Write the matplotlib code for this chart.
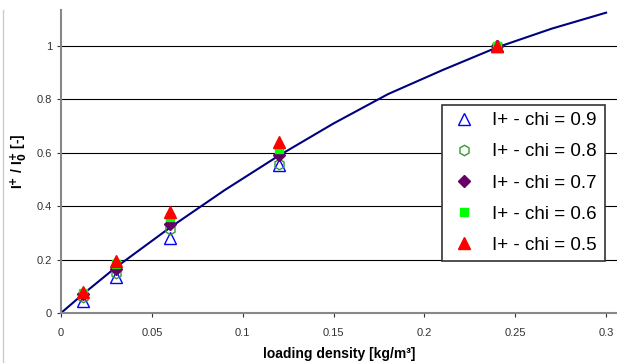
import matplotlib
matplotlib.use('Agg')
import matplotlib.pyplot as plt
from matplotlib.lines import Line2D

plt.rcParams['font.family'] = ['Liberation Sans', 'DejaVu Sans']

# fitted curve
curve_x = [0, 0.012, 0.03, 0.06, 0.09, 0.12, 0.15, 0.18, 0.21, 0.24, 0.27, 0.3]
curve_y = [0, 0.07, 0.17, 0.32, 0.46, 0.59, 0.71, 0.82, 0.91, 0.995, 1.065, 1.125]

# measured points
dens = [0.012, 0.03, 0.06, 0.12, 0.24]
chi_09 = [0.045, 0.135, 0.28, 0.555, 1.0]
chi_08 = [0.06, 0.15, 0.315, 0.56, 1.0]
chi_07 = [0.07, 0.165, 0.335, 0.59, 1.0]
chi_06 = [0.075, 0.185, 0.36, 0.615, 1.0]
chi_05 = [0.08, 0.195, 0.38, 0.64, 1.0]

series = [
    (chi_09, 'I+ - chi = 0.9', dict(marker='^', mfc='none', mec='#0000ff', ms=8, mew=1.0)),
    (chi_08, 'I+ - chi = 0.8', dict(marker='h', mfc='none', mec='#339933', ms=7.5, mew=1.0)),
    (chi_07, 'I+ - chi = 0.7', dict(marker='D', mfc='#660066', mec='#660066', ms=6)),
    (chi_06, 'I+ - chi = 0.6', dict(marker='s', mfc='#00ff00', mec='#00ff00', ms=6)),
    (chi_05, 'I+ - chi = 0.5', dict(marker='^', mfc='#ff0000', mec='#ff0000', ms=8)),
]

fig = plt.figure(figsize=(6.17, 3.63), dpi=100)
ax = fig.add_axes([61/617, 1-313/363, (617-61)/617, (313-10)/363])

for yv in [0.2, 0.4, 0.6, 0.8, 1.0]:
    ax.axhline(yv, color='black', lw=0.8, zorder=0)

ax.plot(curve_x, curve_y, color='#000080', lw=1.5, zorder=2)

handles = []
for vals, lab, st in series:
    ax.plot(dens, vals, ls='none', zorder=3, **st)
    handles.append(Line2D([], [], ls='none', label=lab, **st))

ax.set_xlim(0, 0.306)
ax.set_ylim(0, 1.135)
ax.set_xticks([0, 0.05, 0.1, 0.15, 0.2, 0.25, 0.3])
ax.set_xticklabels(['0', '0.05', '0.1', '0.15', '0.2', '0.25', '0.3'])
ax.set_yticks([0, 0.2, 0.4, 0.6, 0.8, 1.0])
ax.set_yticklabels(['0', '0.2', '0.4', '0.6', '0.8', '1'])
ax.tick_params(labelsize=8, colors='#333333', length=3, width=0.8)
ax.tick_params(axis='x', pad=8)

for s in ['top', 'right']:
    ax.spines[s].set_visible(False)
for s in ['left', 'bottom']:
    ax.spines[s].set_color('#888888')
    ax.spines[s].set_linewidth(1.5)

ax.set_xlabel('loading density [kg/m³]', fontsize=10, fontweight='bold', labelpad=6)
ax.set_ylabel(r'I$^{\mathbf{+}}$ / I$^{\mathbf{+}}_{\mathbf{0}}$ [-]', fontsize=10,
              fontweight='bold', labelpad=5)

leg = ax.legend(handles=handles, loc='upper left', bbox_to_anchor=(0.685, 0.688),
                fontsize=13.5, frameon=True, fancybox=False, labelspacing=0.75,
                handletextpad=0.7, borderpad=0.4, borderaxespad=0, handlelength=1.6)
leg.get_frame().set_edgecolor('#333333')
leg.get_frame().set_linewidth(1.2)
leg.get_frame().set_alpha(1)

fig.add_artist(Line2D([3/617, 3/617], [0, 1-10/363], color='#cccccc', lw=1))

fig.savefig('out.png', dpi=100)
